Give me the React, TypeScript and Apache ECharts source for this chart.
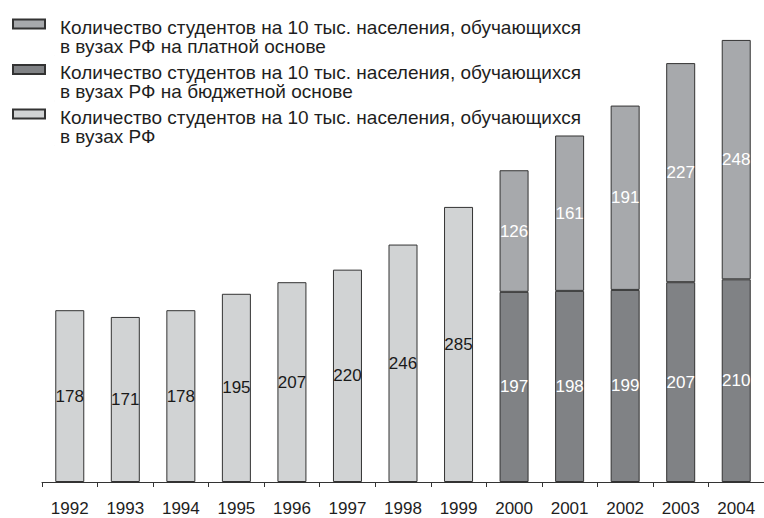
import React, { useEffect, useRef } from "react";
import * as echarts from "echarts";

const years = ["1992", "1993", "1994", "1995", "1996", "1997", "1998", "1999", "2000", "2001", "2002", "2003", "2004"];
const totalValues = [178, 171, 178, 195, 207, 220, 246, 285, null, null, null, null, null];
const budgetValues = [null, null, null, null, null, null, null, null, 197, 198, 199, 207, 210];
const paidValues = [null, null, null, null, null, null, null, null, 126, 161, 191, 227, 248];

const namePaid = "Количество студентов на 10 тыс. населения, обучающихся\nв вузах РФ на платной основе";
const nameBudget = "Количество студентов на 10 тыс. населения, обучающихся\nв вузах РФ на бюджетной основе";
const nameTotal = "Количество студентов на 10 тыс. населения, обучающихся\nв вузах РФ";

const FONT = "'Liberation Sans', Arial, Helvetica, sans-serif";
// legend icon: a 32x9 rectangle near the top of a 42x38 box (box extended by invisible points)
const LEGEND_ICON = "path://M0,2L32,2L32,11L0,11Z M0,0L0.01,0 M42,38L41.99,38";

export default function App() {
  const ref = useRef<HTMLDivElement>(null);
  useEffect(() => {
    if (!ref.current) return;
    const chart = echarts.init(ref.current, null, { renderer: "svg" });
    const legendBase = (name: string, top: number) => ({
      data: [name],
      left: 12,
      top,
      padding: 0,
      orient: "vertical",
      selectedMode: false,
      icon: LEGEND_ICON,
      itemWidth: 42,
      itemHeight: 38,
      textStyle: {
        fontFamily: FONT,
        fontSize: 19,
        lineHeight: 19,
        color: "#1e1e1e",
      },
    });
    const labelCommon = {
      show: true,
      position: "inside",
      fontFamily: FONT,
      fontSize: 17,
    };
    chart.setOption({
      animation: false,
      backgroundColor: "#ffffff",
      legend: [legendBase(namePaid, 16.5), legendBase(nameBudget, 62), legendBase(nameTotal, 106.5)],
      grid: { left: 42, right: -8, top: 38, bottom: 36 },
      xAxis: {
        type: "category",
        data: years,
        boundaryGap: true,
        axisLine: { lineStyle: { color: "#333333", width: 1 } },
        axisTick: { show: true, length: 5, lineStyle: { color: "#333333" } },
        axisLabel: { fontFamily: FONT, fontSize: 17, color: "#1e1e1e", margin: 18 },
      },
      yAxis: { type: "value", min: 0, max: 460, show: false, splitLine: { show: false } },
      series: [
        {
          name: nameTotal,
          type: "bar",
          stack: "s",
          barWidth: 29,
          data: totalValues,
          itemStyle: { color: "#d1d3d4", borderColor: "#333333", borderWidth: 1 },
          label: { ...labelCommon, color: "#1a1a1a" },
        },
        {
          name: nameBudget,
          type: "bar",
          stack: "s",
          barWidth: 29,
          data: budgetValues,
          itemStyle: { color: "#808285", borderColor: "#333333", borderWidth: 1 },
          label: { ...labelCommon, color: "#ffffff" },
        },
        {
          name: namePaid,
          type: "bar",
          stack: "s",
          barWidth: 29,
          data: paidValues,
          itemStyle: { color: "#a7a9ac", borderColor: "#333333", borderWidth: 1 },
          label: { ...labelCommon, color: "#ffffff" },
        },
      ],
    });
    return () => chart.dispose();
  }, []);
  return (
    <div
      ref={ref}
      style={{ position: "fixed", left: 0, top: 0, width: 764, height: 518, background: "#fff" }}
    />
  );
}
